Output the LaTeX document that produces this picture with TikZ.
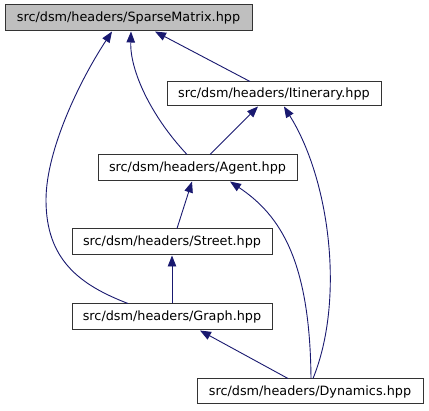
\documentclass[tikz,border=0pt]{standalone}
\usepackage{fontspec}
\setmainfont{DejaVu Sans}
\usetikzlibrary{arrows.meta}
\definecolor{edgeblue}{HTML}{191970}
\definecolor{boxline}{HTML}{333333}
\definecolor{hilite}{HTML}{BFBFBF}
\begin{document}
\begin{tikzpicture}[x=1pt,y=-1pt,
  filebox/.style={draw=boxline,line width=1pt,fill=white,rectangle,inner sep=0pt,
    minimum height=25pt,font=\fontsize{12.8}{15}\selectfont,text=black},
  edge/.style={draw=edgeblue,line width=0.9pt,-{Triangle[length=11pt,width=8.5pt]}}]
\fill[white] (0,0) rectangle (429,411);
\useasboundingbox (0,0) rectangle (429,411);
\node[filebox,fill=hilite,minimum width=247pt,minimum height=26pt] (sm) at (128.5,18) {src/dsm/headers/SparseMatrix.hpp};
\node[filebox,minimum width=214pt,minimum height=24pt] (it) at (274,94) {src/dsm/headers/Itinerary.hpp};
\node[filebox,minimum width=199pt,minimum height=26pt] (ag) at (197.5,168) {src/dsm/headers/Agent.hpp};
\node[filebox,minimum width=200pt,minimum height=26pt] (st) at (172,242) {src/dsm/headers/Street.hpp};
\node[filebox,minimum width=200pt,minimum height=26pt] (gr) at (172,317) {src/dsm/headers/Graph.hpp};
\node[filebox,minimum width=226pt,minimum height=25pt] (dy) at (310,391.5) {src/dsm/headers/Dynamics.hpp};
% Itinerary -> SparseMatrix
\draw[edge] ([xshift=-24pt]it.north) -- ([xshift=26.5pt]sm.south);
% Agent -> Itinerary
\draw[edge] ([xshift=12.5pt]ag.north) -- ([xshift=-16pt]it.south);
% Agent -> SparseMatrix
\draw[edge] ([xshift=-10.5pt]ag.north) .. controls (150,115) and (130,70) .. ([xshift=2.5pt]sm.south);
% Graph -> SparseMatrix
\draw[edge] ([xshift=-44pt]gr.north) .. controls (80,285) and (46,260) .. (46,200)
  .. controls (46,150) and (80,80) .. ([xshift=-16.5pt]sm.south);
% Street -> Agent
\draw[edge] ([xshift=5pt]st.north) -- ([xshift=-5.5pt]ag.south);
% Graph -> Street
\draw[edge] (gr.north) -- (st.south);
% Dynamics -> Agent
\draw[edge] ([xshift=1pt]dy.north) .. controls (310,260) and (280,215) .. ([xshift=32.5pt]ag.south);
% Dynamics -> Itinerary
\draw[edge] ([xshift=3pt]dy.north) .. controls (345,300) and (330,180) .. ([xshift=10pt]it.south);
% Dynamics -> Graph
\draw[edge] ([xshift=-22pt]dy.north) -- ([xshift=28pt]gr.south);
\end{tikzpicture}
\end{document}
